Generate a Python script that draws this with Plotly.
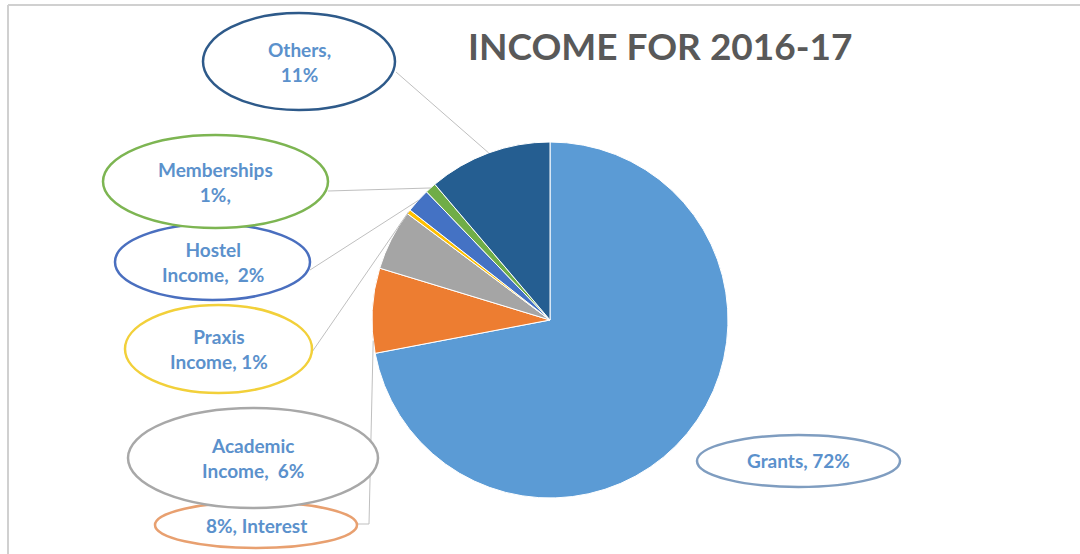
import math
import plotly.graph_objects as go

# ---- data ----
categories = ["Grants", "Interest", "Academic Income", "Praxis Income",
              "Hostel Income", "Memberships", "Others"]
values = [72.0, 7.7, 5.5, 0.4, 2.2, 1.0, 11.2]
label_texts = ["Grants, 72%", "8%, Interest", "Academic<br>Income,  6%",
               "Praxis<br>Income, 1%", "Hostel<br>Income,  2%",
               "Memberships<br>1%,", "Others,<br>11%"]
slice_colors = ["#5B9BD5", "#ED7D31", "#A5A5A5", "#FFC000",
                "#4472C4", "#70AD47", "#255E91"]
ellipse_colors = ["#7F9DC0", "#E8A070", "#A8A8A8", "#F2D03A",
                  "#4A6FBF", "#7DB552", "#2E5A8A"]

W, H = 1080, 554
def px(x):
    return x / W
def py(y):
    return 1 - y / H

# pie geometry (pixels)
CX, CY, R = 550, 320, 178

fig = go.Figure()
fig.add_trace(go.Pie(
    labels=categories, values=values, sort=False, direction="clockwise",
    rotation=0, textinfo="none", showlegend=False,
    marker=dict(colors=slice_colors, line=dict(color="white", width=1)),
    domain=dict(x=[px(CX - R), px(CX + R)], y=[py(CY + R), py(CY - R)]),
))

# callout ellipses (pixel boxes) and where the leader leaves the ellipse
ellipses = [
    (697, 435, 900, 487),   # Grants
    (155, 502, 357, 548),   # Interest
    (128, 408, 378, 508),   # Academic
    (125, 305, 312, 393),   # Praxis
    (115, 224, 310, 300),   # Hostel
    (103, 135, 328, 228),   # Memberships
    (203, 13, 395, 110),    # Others
]
leader_start = {1: [(357, 524), (369, 524)], 3: [(312, 352)], 4: [(310, 270)],
                5: [(328, 191)], 6: [(396, 72)]}
anchor_frac = {1: 0.15, 3: 0.5, 4: 0.5, 5: 0.5, 6: 0.5}

total = sum(values)
cum = 0.0
edge_pts = []
for v in values:
    edge_pts.append((cum, cum + v))
    cum += v

shapes = []
annotations = []
for i, (x0, y0, x1, y1) in enumerate(ellipses):
    if i in leader_start:
        a0, a1 = edge_pts[i]
        a = a0 + (a1 - a0) * anchor_frac[i]
        th = math.radians(a / total * 360)
        ex, ey = CX + R * math.sin(th), CY - R * math.cos(th)
        pts = leader_start[i] + [(ex, ey)]
        path = "M " + " L ".join(f"{px(x):.5f},{py(y):.5f}" for x, y in pts)
        shapes.append(dict(type="path", xref="paper", yref="paper", path=path,
                           line=dict(color="#BFBFBF", width=1)))
for i, (x0, y0, x1, y1) in enumerate(ellipses):
    shapes.append(dict(type="circle", xref="paper", yref="paper",
                       x0=px(x0), x1=px(x1), y0=py(y1), y1=py(y0),
                       fillcolor="white", line=dict(color=ellipse_colors[i], width=2.5)))
    annotations.append(dict(x=px((x0 + x1) / 2), y=py((y0 + y1) / 2), xref="paper",
                            yref="paper", text="<b>" + label_texts[i].replace("<br>", "</b><br><b>") + "</b>",
                            showarrow=False,
                            font=dict(family="Lato", size=19, color="#5B91CC"),
                            align="center", xanchor="center", yanchor="middle"))

# frame lines
shapes.append(dict(type="line", xref="paper", yref="paper", x0=px(8), x1=1,
                   y0=py(5), y1=py(5), line=dict(color="#D0D0D0", width=2)))
shapes.append(dict(type="line", xref="paper", yref="paper", x0=px(8), x1=px(8),
                   y0=py(5), y1=0, line=dict(color="#D0D0D0", width=2)))

annotations.append(dict(x=px(660), y=py(45), xref="paper", yref="paper",
                        text="<b>INCOME FOR 2016-17</b>", showarrow=False,
                        font=dict(family="Lato", size=37, color="#595959"),
                        xanchor="center", yanchor="middle"))

fig.update_layout(width=W, height=H, margin=dict(l=0, r=0, t=0, b=0),
                  paper_bgcolor="white", plot_bgcolor="white",
                  shapes=shapes, annotations=annotations)
fig.write_html("out.html", config={"displayModeBar": False},
               post_script="document.body.style.margin='0';document.body.style.overflow='hidden';")
